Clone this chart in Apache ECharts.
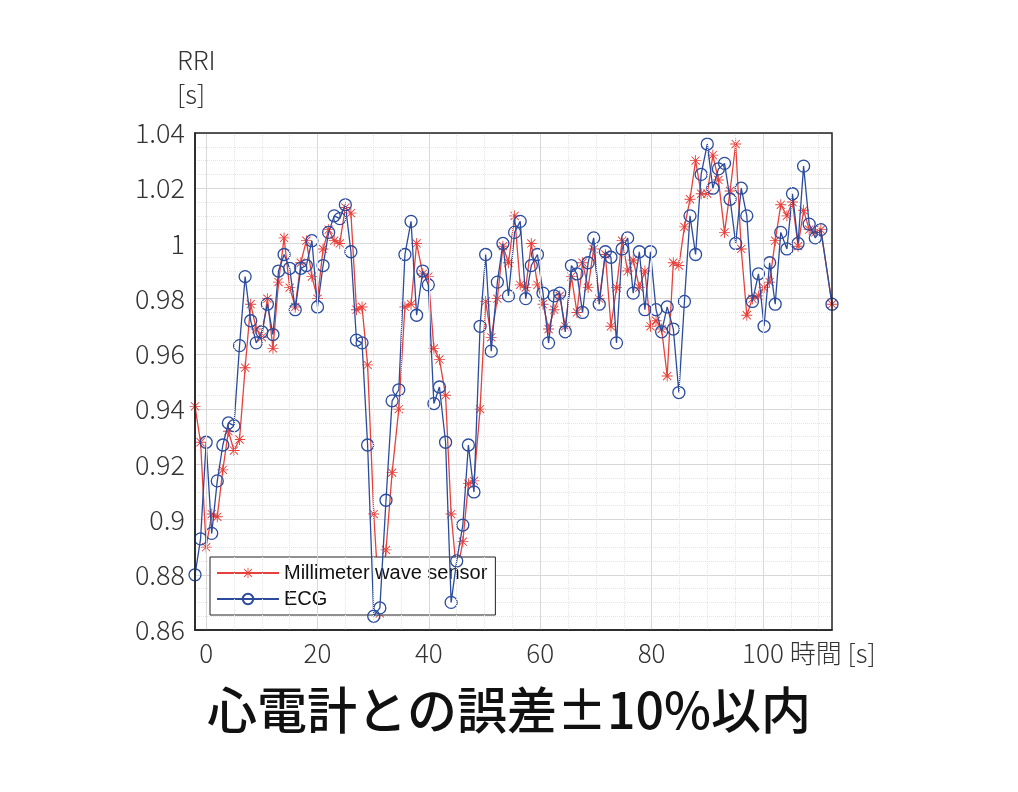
<!DOCTYPE html>
<html><head><meta charset="utf-8">
<script src="https://cdn.jsdelivr.net/npm/echarts@6/dist/echarts.min.js"></script>
<style>html,body{margin:0;padding:0;background:#fff}#c{width:1018px;height:792px}</style>
</head><body><div id="c"></div>
<script>
const times = [-2,-1,0,1,2,3,4,5,6,7,8,9,10,11,12,13,14,15,16,17,18,19,20,21,22,23,24,25,26,27,28,29,
30.1,31.2,32.3,33.4,34.6,35.7,36.8,
37.8,38.9,39.9,40.9,41.9,43.0,44.0,45.0,46.1,47.1,48.1,49.2,50.2,51.2,52.3,53.3,54.3,55.4,56.4,
57.4,58.4,59.5,60.5,61.5,62.5,63.5,64.5,65.6,66.6,67.6,68.6,69.6,70.6,71.7,72.7,73.7,74.7,75.7,76.7,77.8,78.8,79.8,80.8,81.8,82.8,83.9,84.9,85.9,86.9,87.9,88.9,90.0,
91.0,92.0,93.1,94.1,95.1,96.1,97.1,98.1,99.2,100.2,101.2,102.2,103.2,104.3,105.3,106.3,107.3,108.3,109.4,110.4,112.4];
const ecg = [0.880,0.893,0.928,0.895,0.914,0.927,0.935,0.934,0.963,0.988,0.972,0.964,0.968,0.978,0.967,0.990,0.996,0.991,0.976,0.991,0.992,1.001,0.977,0.992,1.004,1.010,1.009,1.014,0.997,0.965,0.964,0.927,0.865,0.868,0.907,0.943,0.947,0.996,1.008,0.974,0.990,0.985,0.942,0.948,0.928,0.870,0.885,0.898,0.927,0.910,0.970,0.996,0.961,0.986,1.000,0.981,1.004,1.008,0.980,0.992,0.996,0.982,0.964,0.981,0.982,0.968,0.992,0.989,0.975,0.993,1.002,0.978,0.997,0.995,0.964,0.998,1.002,0.982,0.997,0.976,0.997,0.976,0.968,0.977,0.969,0.946,0.979,1.010,0.996,1.025,1.036,1.020,1.027,1.029,1.016,1.000,1.020,1.010,0.979,0.989,0.970,0.993,0.978,1.004,0.998,1.018,1.000,1.028,1.007,1.002,1.005,0.978];
const mmw = [0.941,0.928,0.890,0.902,0.901,0.918,0.932,0.925,0.929,0.955,0.978,0.969,0.966,0.980,0.962,0.986,1.002,0.984,0.977,0.993,1.001,0.988,0.980,0.998,1.005,1.001,1.000,1.013,1.011,0.976,0.977,0.956,0.902,0.866,0.889,0.917,0.940,0.977,0.978,1.000,0.989,0.988,0.962,0.958,0.945,0.902,0.880,0.892,0.913,0.914,0.940,0.979,0.966,0.980,0.999,0.993,1.010,0.985,0.984,1.000,0.985,0.978,0.969,0.976,0.981,0.970,0.988,0.975,0.993,0.984,0.998,0.980,0.996,0.970,0.984,1.001,0.990,0.994,0.984,0.990,0.970,0.972,0.969,0.952,0.993,0.992,1.006,1.016,1.030,1.018,1.018,1.032,1.023,1.004,1.019,1.036,0.998,0.974,0.980,0.981,0.984,0.986,1.001,1.014,1.010,1.015,0.999,1.012,1.005,1.004,1.005,0.978];
const xTicks = [0,20,40,60,80,100];
const xMinor = [5,10,15,25,30,35,45,50,55,65,70,75,85,90,95,105,110];
const seriesNames = ['Millimeter wave sensor','ECG'];
const title = '心電計との誤差±10%以内';

const star = 'path://M4.6 0H5.4V10H4.6Z M0 4.6H10V5.4H0Z M1 1.6L1.6 1L9 8.4L8.4 9Z M8.4 1L9 1.6L1.6 9L1 8.4Z';
const red = '#e8403a', blue = '#2b4b9e';
const chart = echarts.init(document.getElementById('c'));
chart.setOption({
  animation:false,
  title:{text:title,left:'center',top:680,textStyle:{fontSize:50,fontWeight:500,color:'#111',fontFamily:'Noto Sans CJK JP'}},
  grid:{left:195,right:186,top:133,bottom:162},
  legend:{orient:'vertical',left:210,top:557,padding:[6,8,6,6],itemGap:6,backgroundColor:'#fff',borderColor:'#222',borderWidth:1,borderRadius:0,
    itemWidth:62,itemHeight:13,textStyle:{fontSize:20,color:'#111',fontFamily:'Liberation Sans',width:236,overflow:'none'},
    data:[{name:seriesNames[0]},{name:seriesNames[1]}]},
  xAxis:{type:'value',min:-2,max:112.4,
    name:'時間 [s]',nameLocation:'end',nameGap:-60,nameTextStyle:{fontSize:26,color:'#333',fontFamily:'Noto Sans CJK JP',fontWeight:300,verticalAlign:'top',padding:[10,0,0,0]},
    axisLine:{show:true,onZero:false,lineStyle:{color:'#222',width:1.5}},
    axisTick:{show:false},splitLine:{show:false},
    axisLabel:{customValues:xTicks,fontSize:26,color:'#333',margin:10,fontFamily:'Noto Sans CJK JP',fontWeight:300}},
  yAxis:{type:'value',min:0.86,max:1.04,interval:0.02,
    name:'RRI\n[s]',nameLocation:'end',nameGap:22,nameTextStyle:{fontSize:26,color:'#333',align:'left',padding:[0,0,0,-18],lineHeight:34,fontFamily:'Noto Sans CJK JP',fontWeight:300},
    axisLine:{show:true,onZero:false,lineStyle:{color:'#222',width:1.5}},axisTick:{show:false},
    axisLabel:{fontSize:27,color:'#333',margin:10,fontFamily:'Noto Sans CJK JP',fontWeight:300,formatter:v=>String(+v.toFixed(2))},
    splitLine:{lineStyle:{color:'#d8d8d8',width:1}},
    minorTick:{show:false,splitNumber:4},minorSplitLine:{show:true,lineStyle:{color:'#e4e4e4',type:'dotted'}}},
  series:[
    {name:seriesNames[0],type:'line',data:times.map((t,i)=>[t,mmw[i]]),symbol:star,symbolSize:11,
      lineStyle:{color:red,width:1.3},itemStyle:{color:red},z:3,
      markLine:{silent:true,symbol:'none',label:{show:false},
        data:xTicks.map(v=>({xAxis:v,lineStyle:{color:'#d8d8d8',width:1,type:'solid'}})).concat(
             xMinor.map(v=>({xAxis:v,lineStyle:{color:'#e4e4e4',width:1,type:'dotted'}})))}},
    {name:seriesNames[1],type:'line',data:times.map((t,i)=>[t,ecg[i]]),symbol:'circle',symbolSize:12,
      lineStyle:{color:blue,width:1.3},itemStyle:{color:'rgba(255,255,255,0)',borderColor:blue,borderWidth:1.3},z:4}
  ]
});
chart.setOption({graphic:[{type:'rect',shape:{x:195,y:133,width:637,height:497},style:{fill:'none',stroke:'#222',lineWidth:1.5},z:10}]});
</script></body></html>
